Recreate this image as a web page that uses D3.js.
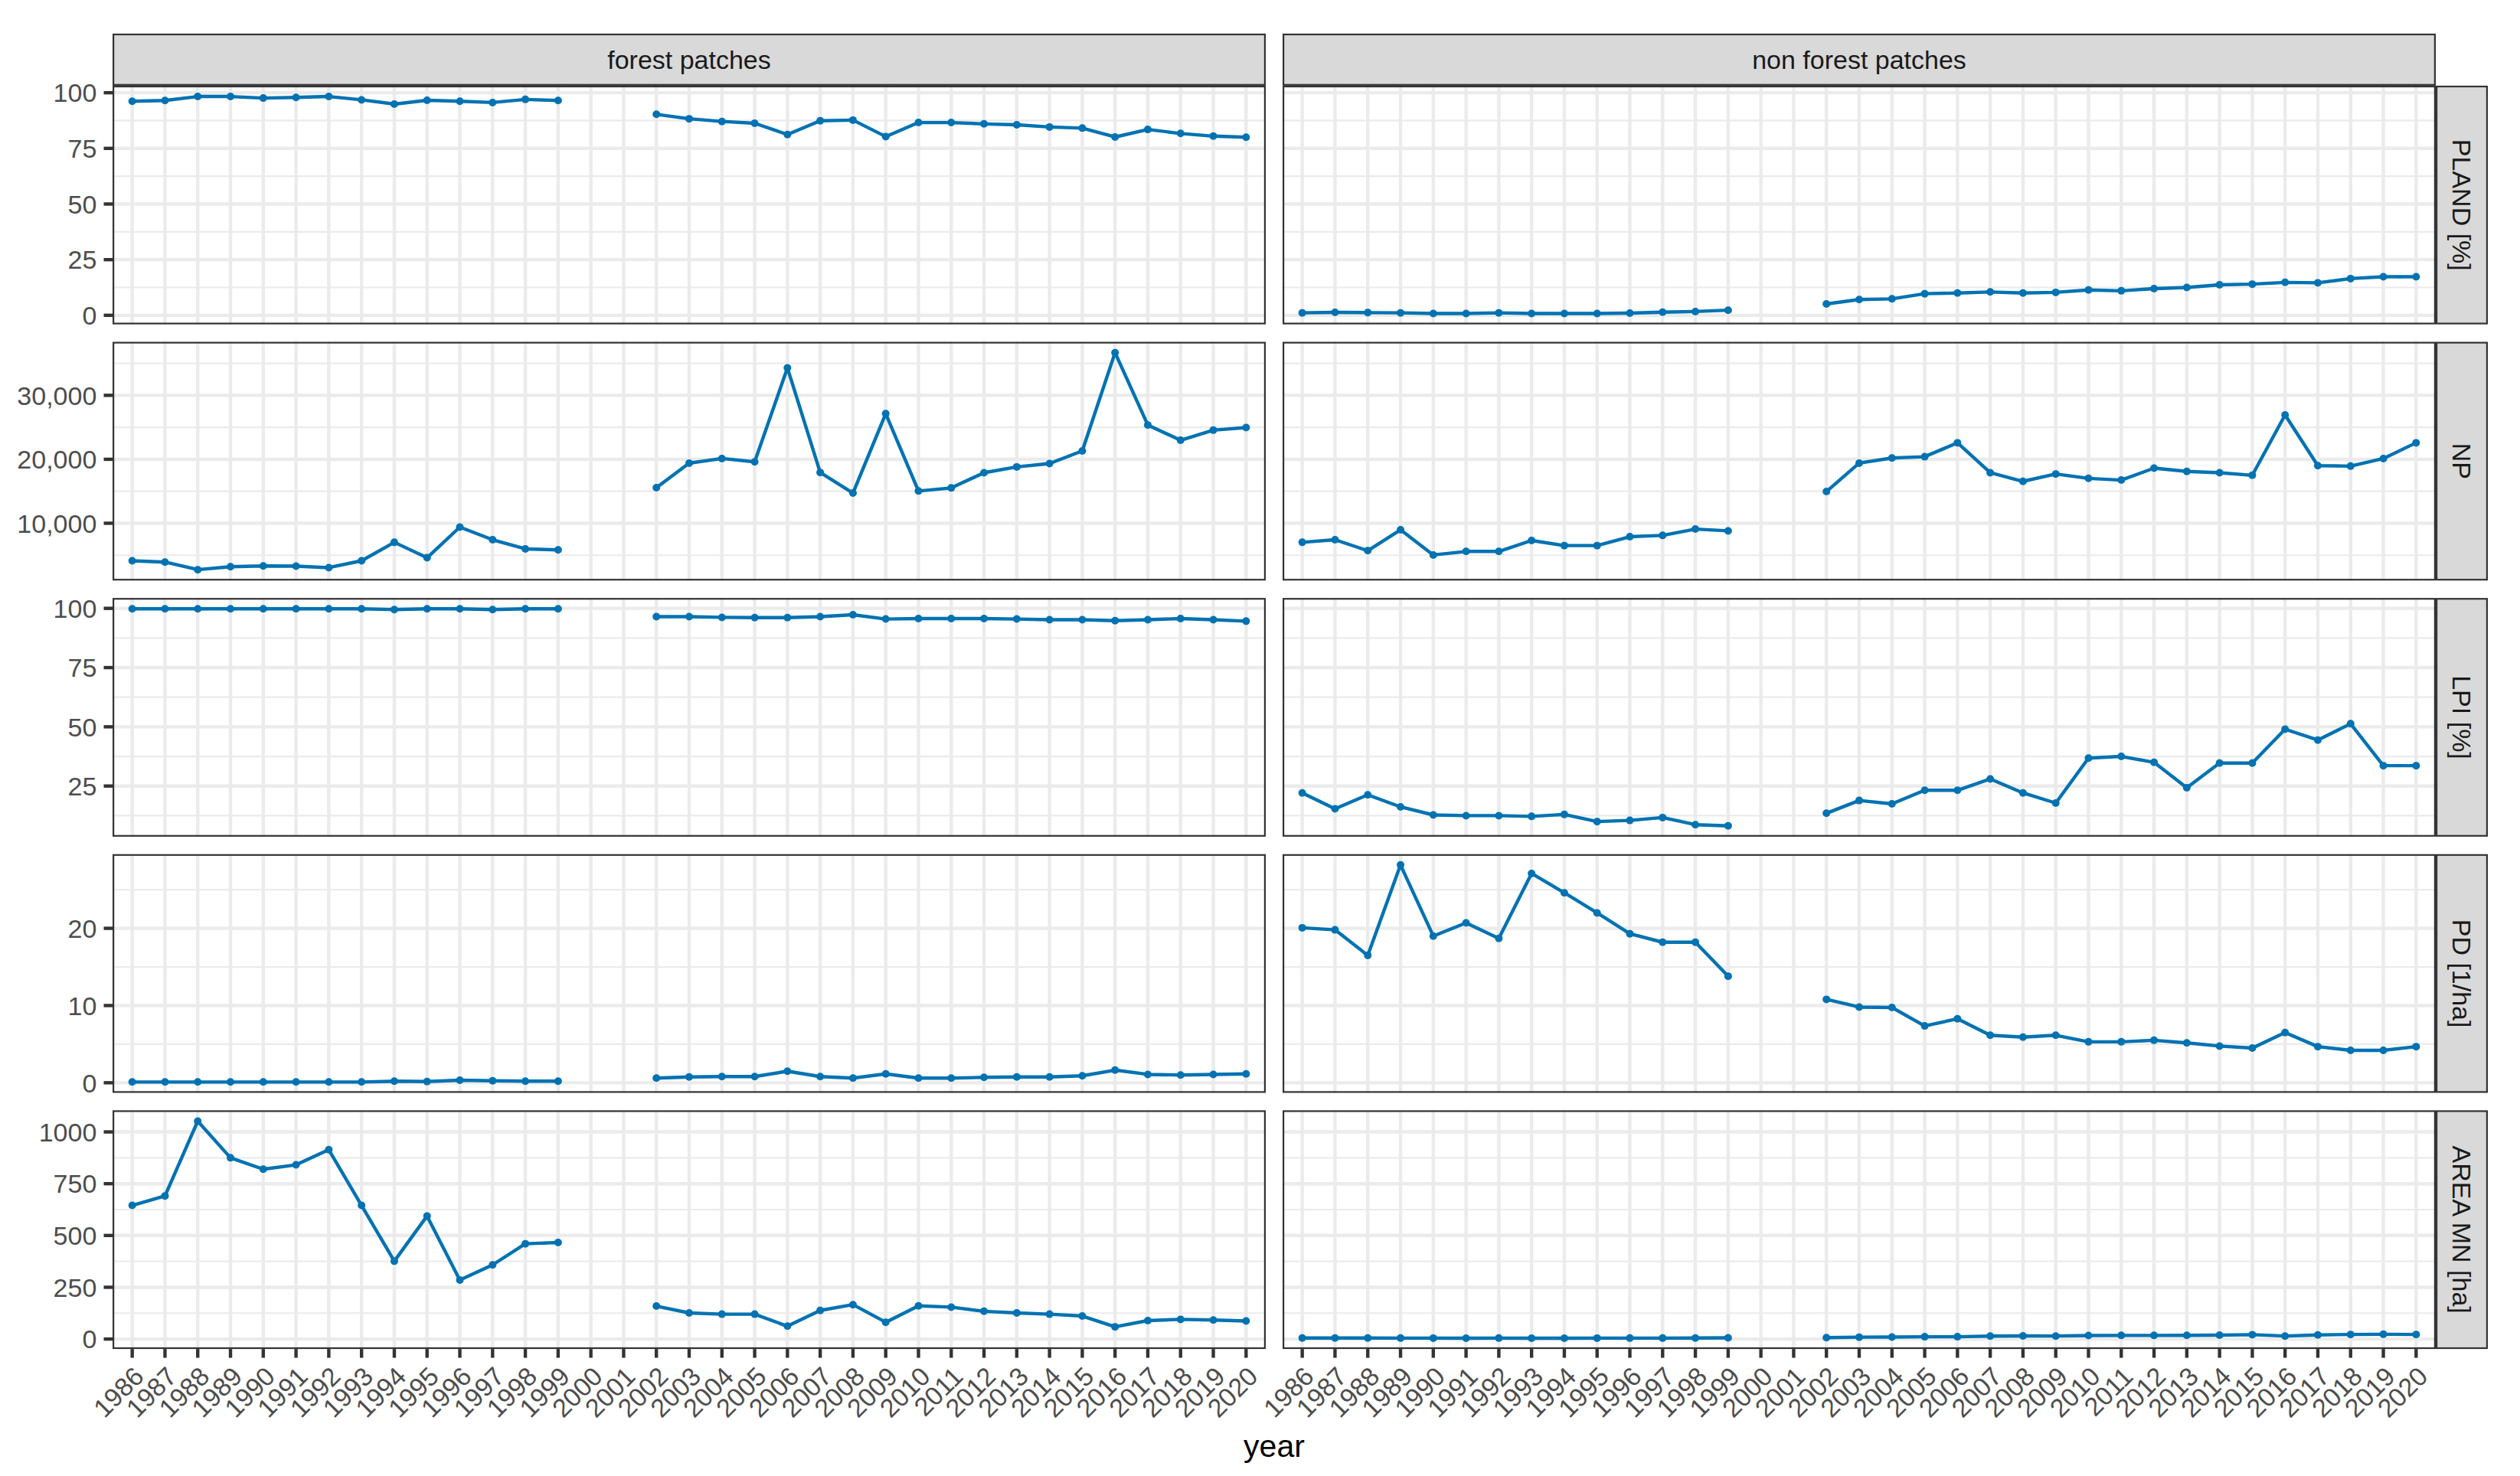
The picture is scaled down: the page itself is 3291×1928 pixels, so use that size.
<!DOCTYPE html>
<html>
<head>
<meta charset="utf-8">
<script src="https://cdn.jsdelivr.net/npm/d3@7"></script>
<style>
  html, body { margin: 0; padding: 0; background: #ffffff; }
  svg { display: block; }
  text { font-family: "Liberation Sans", Arial, Helvetica, sans-serif; }
</style>
</head>
<body>
<svg id="chart" width="3291" height="1928"></svg>
<script>
// ---------------- DATA ----------------
const years = [1986, 1987, 1988, 1989, 1990, 1991, 1992, 1993, 1994, 1995, 1996, 1997, 1998, 1999,
  2000, 2001, 2002, 2003, 2004, 2005, 2006, 2007, 2008, 2009, 2010, 2011, 2012, 2013, 2014, 2015,
  2016, 2017, 2018, 2019, 2020];

const classes = ["forest patches", "non forest patches"];
const metrics = ["PLAND [%]", "NP", "LPI [%]", "PD [1/ha]", "AREA MN [ha]"];

// PLAND [%]
const plandForest = [96.2, 96.5, 98.3, 98.3, 97.6, 97.9, 98.3, 96.8, 94.9, 96.6, 96.2, 95.6, 97.0, 96.5,
  null, null, 90.3, 88.3, 87.1, 86.3, 81.2, 87.4, 87.7, 80.3, 86.6, 86.6, 86.0, 85.6, 84.6, 84.1,
  80.1, 83.5, 81.7, 80.5, 80.0];
const plandNonForest = [1.1, 1.3, 1.2, 1.1, 0.8, 0.8, 1.1, 0.8, 0.8, 0.8, 1.0, 1.4, 1.7, 2.3,
  null, null, 5.1, 7.1, 7.4, 9.7, 10.0, 10.5, 10.0, 10.3, 11.4, 11.0, 12.0, 12.5, 13.7, 14.0,
  14.8, 14.6, 16.5, 17.3, 17.3];

// NP
const npForest = [4130, 3930, 2740, 3210, 3330, 3290, 3060, 4130, 7020, 4600, 9400, 7420, 5990, 5830,
  null, null, 15560, 19400, 20120, 19600, 34290, 17940, 14720, 27140, 15040, 15520, 17900, 18810, 19330, 21310,
  36670, 25360, 22980, 24560, 24960];
const npNonForest = [7020, 7420, 5710, 8970, 5040, 5590, 5590, 7300, 6510, 6510, 7900, 8100, 9090, 8810,
  null, null, 14960, 19400, 20200, 20400, 22580, 17900, 16550, 17700, 17020, 16750, 18610, 18100, 17900, 17500,
  26940, 19010, 18930, 20120, 22580];

// LPI [%]
const lpiForest = [99.8, 99.8, 99.8, 99.8, 99.8, 99.8, 99.8, 99.8, 99.5, 99.8, 99.8, 99.5, 99.8, 99.8,
  null, null, 96.5, 96.5, 96.2, 96.1, 96.1, 96.5, 97.3, 95.5, 95.7, 95.7, 95.7, 95.5, 95.2, 95.2,
  94.8, 95.2, 95.7, 95.2, 94.6];
const lpiNonForest = [22.1, 15.4, 21.3, 16.2, 12.8, 12.5, 12.5, 12.2, 13.0, 10.0, 10.5, 11.7, 8.7, 8.2,
  null, null, 13.5, 18.9, 17.5, 23.2, 23.2, 28.0, 22.1, 17.8, 36.8, 37.5, 35.0, 24.3, 34.7, 34.7,
  49.0, 44.4, 51.3, 33.6, 33.6];

// PD [1/ha]
const pdForest = [0.1, 0.1, 0.1, 0.1, 0.1, 0.1, 0.1, 0.1, 0.2, 0.16, 0.33, 0.26, 0.2, 0.2,
  null, null, 0.6, 0.75, 0.8, 0.8, 1.5, 0.8, 0.6, 1.15, 0.6, 0.6, 0.7, 0.75, 0.75, 0.9,
  1.64, 1.08, 1.0, 1.08, 1.15];
const pdNonForest = [20.07, 19.8, 16.5, 28.2, 19.0, 20.7, 18.7, 27.1, 24.6, 22.0, 19.3, 18.2, 18.2, 13.8,
  null, null, 10.8, 9.8, 9.75, 7.36, 8.28, 6.15, 5.9, 6.15, 5.3, 5.3, 5.5, 5.17, 4.75, 4.5,
  6.5, 4.68, 4.2, 4.2, 4.68];

// AREA MN [ha]
const areaForest = [645, 691, 1052, 875, 820, 841, 914, 645, 376, 594, 285, 358, 460, 466,
  null, null, 159, 126, 120, 120, 62, 138, 166, 81, 160, 154, 134, 126, 120, 111,
  59, 89, 95, 92, 87];
const areaNonForest = [5.0, 5.1, 4.8, 4.5, 4.4, 4.3, 4.5, 4.3, 4.3, 4.4, 4.5, 4.6, 4.7, 6.0,
  null, null, 7, 9, 9.5, 11, 11, 14, 15, 14.5, 17, 17.5, 17.5, 18, 19, 21,
  14.5, 20, 22, 23, 22];

// y-axis tick values and labels per metric row
const plandTicks = [0, 25, 50, 75, 100];
const plandTickLabels = ["0", "25", "50", "75", "100"];
const npTicks = [10000, 20000, 30000];
const npTickLabels = ["10,000", "20,000", "30,000"];
const lpiTicks = [25, 50, 75, 100];
const lpiTickLabels = ["25", "50", "75", "100"];
const pdTicks = [0, 10, 20];
const pdTickLabels = ["0", "10", "20"];
const areaTicks = [0, 250, 500, 750, 1000];
const areaTickLabels = ["0", "250", "500", "750", "1000"];

// ---------------- ASSEMBLY ----------------
const rows = [
  { label: metrics[0], series: [plandForest, plandNonForest], ticks: plandTicks, tickLabels: plandTickLabels },
  { label: metrics[1], series: [npForest, npNonForest], ticks: npTicks, tickLabels: npTickLabels },
  { label: metrics[2], series: [lpiForest, lpiNonForest], ticks: lpiTicks, tickLabels: lpiTickLabels },
  { label: metrics[3], series: [pdForest, pdNonForest], ticks: pdTicks, tickLabels: pdTickLabels },
  { label: metrics[4], series: [areaForest, areaNonForest], ticks: areaTicks, tickLabels: areaTickLabels }
];

// ---------------- LAYOUT ----------------
const svg = d3.select("#chart");
const panelLeft = 147, panelW = 1506, colGap = 22;
const panelTop = 111.9, panelH = 311.8, rowGap = 22.8;
const stripH = 68, stripW = 68;
const tickLen = 11.5;
const axisFont = 34;
const stripFont = 34;
const lineColor = "#0072B2";
const border = "#333333";

const colX = c => panelLeft + c * (panelW + colGap);
const rowY = r => panelTop + r * (panelH + rowGap);

const x = d3.scalePoint().domain(years).range([0, panelW]).padding(0.6);

svg.append("rect").attr("width", 3291).attr("height", 1928).attr("fill", "#ffffff");

rows.forEach((row, r) => {
  const all = row.series.flat().filter(v => v != null);
  const mn = d3.min(all), mx = d3.max(all);
  const pad = (mx - mn) * 0.05;
  const y = d3.scaleLinear().domain([mn - pad, mx + pad]).range([panelH, 0]);
  const step = row.ticks[1] - row.ticks[0];
  const minor = [];
  for (let i = -1; i < row.ticks.length; i++) {
    const v = row.ticks[0] + step * i + step / 2;
    if (v >= mn - pad && v <= mx + pad) minor.push(v);
  }

  row.series.forEach((vals, c) => {
    const g = svg.append("g").attr("transform", `translate(${colX(c)},${rowY(r)})`);
    g.append("rect").attr("width", panelW).attr("height", panelH).attr("fill", "#ffffff");
    // minor grid
    g.selectAll("line.minor").data(minor).enter().append("line")
      .attr("x1", 0).attr("x2", panelW)
      .attr("y1", d => y(d)).attr("y2", d => y(d))
      .attr("stroke", "#EBEBEB").attr("stroke-width", 2.2);
    // major grid
    g.selectAll("line.majy").data(row.ticks).enter().append("line")
      .attr("x1", 0).attr("x2", panelW)
      .attr("y1", d => y(d)).attr("y2", d => y(d))
      .attr("stroke", "#EBEBEB").attr("stroke-width", 4.4);
    g.selectAll("line.majx").data(years).enter().append("line")
      .attr("x1", d => x(d)).attr("x2", d => x(d))
      .attr("y1", 0).attr("y2", panelH)
      .attr("stroke", "#EBEBEB").attr("stroke-width", 4.4);

    const pts = years.map((yr, i) => ({ yr, v: vals[i] }));
    const line = d3.line().defined(d => d.v != null).x(d => x(d.yr)).y(d => y(d.v));
    g.append("path").datum(pts).attr("d", line)
      .attr("fill", "none").attr("stroke", lineColor).attr("stroke-width", 4.4)
      .attr("stroke-linejoin", "round");
    g.selectAll("circle").data(pts.filter(d => d.v != null)).enter().append("circle")
      .attr("cx", d => x(d.yr)).attr("cy", d => y(d.v)).attr("r", 5)
      .attr("fill", lineColor);

    // border (inner half of a 4.4 line)
    g.append("rect").attr("x", 1.1).attr("y", 1.1)
      .attr("width", panelW - 2.2).attr("height", panelH - 2.2)
      .attr("fill", "none").attr("stroke", border).attr("stroke-width", 2.2);

    // y axis on left column
    if (c === 0) {
      row.ticks.forEach((t, i) => {
        g.append("line").attr("x1", -tickLen).attr("x2", 0)
          .attr("y1", y(t)).attr("y2", y(t))
          .attr("stroke", border).attr("stroke-width", 4.4);
        g.append("text").attr("x", -tickLen - 9.2).attr("y", y(t))
          .attr("dy", "0.36em").attr("text-anchor", "end")
          .attr("font-size", axisFont).attr("fill", "#4D4D4D")
          .text(row.tickLabels[i]);
      });
    }
    // x axis on bottom row
    if (r === rows.length - 1) {
      years.forEach(yr => {
        g.append("line").attr("x1", x(yr)).attr("x2", x(yr))
          .attr("y1", panelH).attr("y2", panelH + tickLen)
          .attr("stroke", border).attr("stroke-width", 4.4);
        g.append("text")
          .attr("transform", `translate(${x(yr)},${panelH + tickLen + 9.2}) rotate(-45)`)
          .attr("text-anchor", "end").attr("dy", "0.72em")
          .attr("font-size", axisFont).attr("fill", "#4D4D4D")
          .text(yr);
      });
    }
  });

  // right strip
  const sx = colX(1) + panelW, sy = rowY(r);
  svg.append("rect").attr("x", sx + 1.1).attr("y", sy + 1.1)
    .attr("width", stripW - 2.2).attr("height", panelH - 2.2)
    .attr("fill", "#D9D9D9").attr("stroke", border).attr("stroke-width", 2.2);
  svg.append("text")
    .attr("transform", `translate(${sx + stripW / 2},${sy + panelH / 2}) rotate(90)`)
    .attr("text-anchor", "middle").attr("dy", "0.36em")
    .attr("font-size", stripFont).attr("fill", "#1A1A1A")
    .text(row.label);
});

// top strips
classes.forEach((cl, c) => {
  const sx = colX(c), sy = panelTop - stripH;
  svg.append("rect").attr("x", sx + 1.1).attr("y", sy + 1.1)
    .attr("width", panelW - 2.2).attr("height", stripH - 2.2)
    .attr("fill", "#D9D9D9").attr("stroke", border).attr("stroke-width", 2.2);
  svg.append("text").attr("x", sx + panelW / 2).attr("y", sy + stripH / 2)
    .attr("dy", "0.36em").attr("text-anchor", "middle")
    .attr("font-size", stripFont).attr("fill", "#1A1A1A")
    .text(cl);
});

// x title
svg.append("text").attr("x", panelLeft + (2 * panelW + colGap) / 2).attr("y", 1903)
  .attr("text-anchor", "middle").attr("font-size", 41).attr("fill", "#000000")
  .text("year");
</script>
</body>
</html>
